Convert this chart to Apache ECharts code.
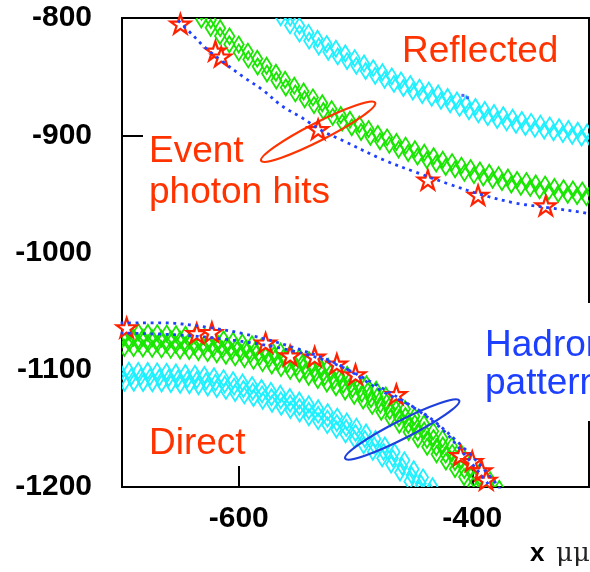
<!DOCTYPE html>
<html>
<head>
<meta charset="utf-8">
<script src="https://cdn.jsdelivr.net/npm/echarts@6/dist/echarts.min.js"></script>
<style>
html, body { margin: 0; padding: 0; background: #fff; }
#kg { width: 590px; height: 572px; }
</style>
</head>
<body>
<div id="kg"></div>
<script>
// ring bands (diamond markers)
var upperGreen = [[-632,-798],[-624,-805],[-616,-812],[-608,-819],[-600,-826],[-592,-832],[-584,-838],[-576,-844],[-568,-850],[-560,-856],[-552,-861],[-544,-866],[-536,-871],[-528,-876],[-520,-881],[-512,-886],[-504,-890],[-496,-894],[-488,-898],[-480,-902],[-472,-905],[-464,-909],[-456,-912],[-448,-915],[-440,-918],[-432,-921],[-424,-924],[-416,-926],[-408,-929],[-400,-931],[-392,-933],[-384,-935],[-376,-937],[-368,-939],[-360,-941],[-352,-942],[-344,-944],[-336,-945],[-328,-947],[-320,-948],[-312,-949],[-304,-950],[-296,-951]];
var upperCyan = [[-564,-796],[-556,-803],[-548,-810],[-540,-816],[-532,-821],[-524,-825.5],[-516,-829.5],[-508,-833.5],[-500,-837.5],[-492,-842],[-484,-846],[-476,-849.5],[-468,-853],[-460,-856.5],[-452,-859.5],[-444,-862.5],[-436,-865],[-428,-867.5],[-420,-870.5],[-412,-873.5],[-404,-876.5],[-396,-879],[-388,-881.5],[-380,-884],[-372,-886],[-364,-888],[-356,-890],[-348,-891.5],[-340,-893],[-332,-894.5],[-324,-896],[-316,-897.5],[-308,-899],[-300,-900.5],[-292,-902]];
var lowerGreen = [[-708,-1074.4],[-700,-1074.5],[-692,-1074.7],[-684,-1075],[-676,-1075.3],[-668,-1075.7],[-660,-1076.1],[-652,-1076.6],[-644,-1077.1],[-636,-1077.9],[-628,-1078.8],[-620,-1079.8],[-612,-1081],[-604,-1082.4],[-596,-1083.8],[-588,-1085.3],[-580,-1087.2],[-572,-1089.3],[-564,-1091.5],[-556,-1093.8],[-548,-1096.3],[-540,-1098.9],[-532,-1101.6],[-524,-1104.6],[-516,-1107.9],[-508,-1111.4],[-500,-1115.1],[-492,-1119.3],[-484,-1123.9],[-476,-1128.9],[-468,-1134.3],[-460,-1140.2],[-452,-1146.4],[-444,-1152.6],[-436,-1159],[-428,-1165.4],[-420,-1171.6],[-412,-1178],[-404,-1185],[-396,-1192.5],[-388,-1200.5],[-380,-1208]];
var lowerCyan = [[-708,-1106],[-700,-1106],[-692,-1106],[-684,-1106.1],[-676,-1106.3],[-668,-1106.6],[-660,-1107],[-652,-1107.5],[-644,-1108],[-636,-1108.8],[-628,-1109.8],[-620,-1111],[-612,-1112.6],[-604,-1114.4],[-596,-1116.4],[-588,-1118.6],[-580,-1121],[-572,-1123.5],[-564,-1126],[-556,-1128.8],[-548,-1131.8],[-540,-1135],[-532,-1138.3],[-524,-1141.7],[-516,-1145.5],[-508,-1149.6],[-500,-1154],[-492,-1159],[-484,-1164.5],[-476,-1170],[-468,-1175.5],[-460,-1182.5],[-452,-1190],[-444,-1197],[-436,-1204.5]];

// hadron pattern (blue dots)
var upperBlue = [[-651,-803],[-640,-814],[-629,-825],[-614,-837],[-595,-851],[-580,-861],[-563,-875],[-546,-885],[-529,-896],[-512,-904],[-476,-921],[-447,-932],[-419,-942],[-391,-951],[-362,-958],[-333,-962],[-305,-966],[-296,-968]];
var lowerBlueOuter = [[-700,-1060],[-666,-1060],[-629,-1063.5],[-591,-1070.4],[-552,-1081.4],[-514,-1095.9],[-479,-1117.3],[-442,-1136.9],[-408,-1165.9],[-382,-1194],[-376,-1202]];
var lowerBlueInner = [[-700,-1068.7],[-650,-1070.4],[-607,-1074.6],[-565,-1081.4],[-522,-1093.4],[-485,-1111.3],[-447,-1134.3],[-425,-1151.4],[-410,-1168.4],[-387,-1196.6],[-384,-1202]];
var strayBlue = [[-408,-866],[-404,-868]];

// event photon hits (stars)
var upperStars = [[-650,-805],[-620,-828],[-615,-833],[-532,-895],[-438,-938],[-395,-951],[-337,-960]];
var lowerStars = [[-696,-1064],[-636,-1069],[-623,-1068],[-577,-1077],[-556,-1088],[-535,-1089],[-516,-1095],[-500,-1104],[-465,-1121],[-410,-1173],[-400,-1178],[-392,-1186],[-388,-1194]];

// ellipse centres
var redEllipse = [[-532,-897]];
var blueEllipse = [[-460,-1151]];

// axes
var xTicks = [-600, -400];
var yTicks = [-1200, -900, -800];

var RED = '#ff3300';
var BLUE_TXT = '#1d40ff';
var GREEN = '#19e600';
var CYAN = '#1ef0ff';
var DOT = '#2040ff';
var DW = 5, DH = 8;

var STAR = 'path://M50 0 L61.23 34.55 L97.55 34.55 L68.16 55.9 L79.39 90.45 L50 69.1 L20.61 90.45 L31.84 55.9 L2.45 34.55 L38.77 34.55 Z';

function diamondBand(pts, color, rows) {
    return {
        type: 'custom',
        clip: true,
        silent: true,
        data: pts,
        renderItem: function (params, api) {
            var i = params.dataIndex;
            var p = api.coord([api.value(0), api.value(1)]);
            var a = api.coord(pts[Math.max(i - 1, 0)]);
            var b = api.coord(pts[Math.min(i + 1, pts.length - 1)]);
            var dx = b[0] - a[0], dy = b[1] - a[1];
            var len = Math.sqrt(dx * dx + dy * dy) || 1;
            var tx = dx / len, ty = dy / len;
            var nx = -ty, ny = tx;
            var children = rows.map(function (o) {
                var cx = p[0] + tx * o[0] + nx * o[1];
                var cy = p[1] + ty * o[0] + ny * o[1];
                return {
                    type: 'polygon',
                    shape: {points: [[cx, cy - DH], [cx + DW, cy], [cx, cy + DH], [cx - DW, cy]]},
                    style: {fill: 'none', stroke: color, lineWidth: 1.8}
                };
            });
            return {type: 'group', children: children};
        }
    };
}

function dotted(pts) {
    return {
        type: 'line',
        data: pts,
        smooth: 0.35,
        showSymbol: false,
        silent: true,
        clip: true,
        lineStyle: {color: DOT, width: 2.8, type: [0.1, 7.4], cap: 'square'}
    };
}

function ellipse(pts, color) {
    return {
        type: 'custom',
        silent: true,
        data: pts,
        renderItem: function (params, api) {
            var p = api.coord([api.value(0), api.value(1)]);
            return {
                type: 'ellipse',
                x: p[0], y: p[1],
                rotation: 27 * Math.PI / 180,
                shape: {cx: 0, cy: 0, rx: 64, ry: 9},
                style: {fill: 'none', stroke: color, lineWidth: 2.2}
            };
        }
    };
}

function stars(pts) {
    return {
        type: 'scatter',
        data: pts,
        symbol: STAR,
        symbolSize: [20, 19],
        silent: true,
        itemStyle: {color: '#fff', borderColor: '#ff2200', borderWidth: 2.2, opacity: 1}
    };
}

var dom = document.getElementById('kg');
var myChart = echarts.init(dom, null, {renderer: 'canvas'});

var labelFont = {fontFamily: 'Liberation Sans', fontSize: 30, fontWeight: 'bold', color: '#000',
    formatter: function (v) { return String(v); }};

myChart.setOption({
    animation: false,
    backgroundColor: '#fff',
    grid: {
        left: 122, top: 18, width: 467, height: 469,
        show: true, borderColor: '#000', borderWidth: 2,
        outerBoundsMode: 'none', containLabel: false
    },
    xAxis: {
        type: 'value', min: -700, max: -300,
        splitLine: {show: false},
        axisLine: {onZero: false, lineStyle: {color: '#000', width: 2}},
        axisTick: {inside: true, length: 21, customValues: xTicks, lineStyle: {color: '#000', width: 2}},
        axisLabel: Object.assign({customValues: xTicks, margin: 17}, labelFont)
    },
    yAxis: {
        type: 'value', min: -1200, max: -800, interval: 100,
        splitLine: {show: false},
        axisLine: {onZero: false, lineStyle: {color: '#000', width: 2}},
        axisTick: {inside: true, length: 21, customValues: yTicks, lineStyle: {color: '#000', width: 2}},
        axisLabel: Object.assign({margin: 30, showMinLabel: true, showMaxLabel: true}, labelFont)
    },
    series: [
        diamondBand(upperCyan, CYAN, [[-2.5, -3], [2.5, 3]]),
        diamondBand(lowerCyan, CYAN, [[-2.5, -6], [0, 0], [2.5, 6]]),
        diamondBand(upperGreen, GREEN, [[-2.5, -3], [2.5, 3]]),
        diamondBand(lowerGreen, GREEN, [[-2.5, -8], [2, -2.7], [-2, 2.7], [2.5, 8]]),
        stars(upperStars),
        stars(lowerStars),
        dotted(upperBlue),
        dotted(lowerBlueOuter),
        dotted(lowerBlueInner),
        {
            type: 'scatter', data: strayBlue, symbol: 'rect', symbolSize: 3, silent: true,
            itemStyle: {color: DOT}
        },
        ellipse(redEllipse, RED),
        ellipse(blueEllipse, '#1e3fdc')
    ],
    graphic: [
        {type: 'text', x: 402, y: 33, z: 100,
            style: {text: 'Reflected', fill: RED, font: '37px "Liberation Sans"'}},
        {type: 'text', x: 149, y: 131, z: 100,
            style: {text: 'Event\nphoton hits', fill: RED, font: '37px "Liberation Sans"', lineHeight: 41}},
        {type: 'text', x: 149, y: 425, z: 100,
            style: {text: 'Direct', fill: RED, font: '37px "Liberation Sans"'}},
        {type: 'text', x: 481, y: 303, z: 100,
            style: {text: 'Hadron\npattern', fill: BLUE_TXT, font: '37px "Liberation Sans"', lineHeight: 38,
                backgroundColor: '#fff', padding: [24, 10, 18, 4]}},
        {type: 'text', x: 530, y: 541, z: 100,
            style: {text: 'x', fill: '#000', font: 'bold 26px "Liberation Sans"'}},
        {type: 'text', x: 556, y: 541, z: 100,
            style: {text: 'μμ', fill: '#222', font: '26px "DejaVu Serif"'}}
    ]
});
</script>
</body>
</html>
